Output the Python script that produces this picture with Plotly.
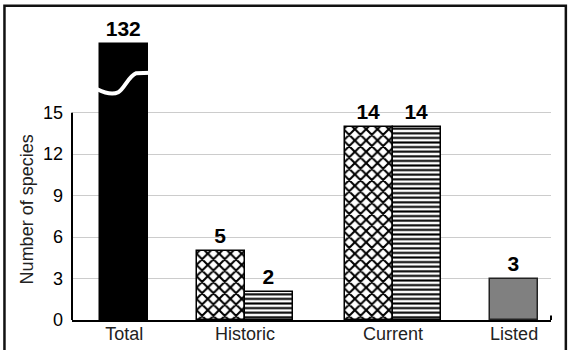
import plotly.graph_objects as go

# ---------------- data ----------------
categories = ["Total", "Historic", "Current", "Listed"]
total_species = [132]
crosshatch_values = [5, 14]      # Historic, Current (cross-hatched bars)
striped_values = [2, 14]         # Historic, Current (striped bars)
listed_species = [3]
y_ticks = [0, 3, 6, 9, 12, 15]

# ---------------- layout constants ----------------
group_pos = [1.09, 3.61, 6.70, 9.23]   # centre of each category on the x axis
bar_w = 1.0
break_top = 20                         # drawn height of the broken Total bar
font_family = "Liberation Sans, Arial, sans-serif"

fig = go.Figure()

# Total (broken bar)
fig.add_trace(go.Bar(
    x=[group_pos[0]], y=[break_top], width=bar_w,
    marker=dict(color="black", line=dict(color="black", width=1.5)),
    text=[str(v) for v in total_species], textposition="outside",
))

# Historic / Current cross-hatched bars
fig.add_trace(go.Bar(
    x=[group_pos[1] - bar_w / 2, group_pos[2] - bar_w / 2], y=crosshatch_values, width=bar_w,
    marker=dict(color="white", line=dict(color="black", width=1.5),
                pattern=dict(shape="x", size=8, solidity=0.45, fgcolor="black",
                             bgcolor="white", fillmode="replace")),
    text=crosshatch_values, textposition="outside",
))

# Historic / Current striped bars
fig.add_trace(go.Bar(
    x=[group_pos[1] + bar_w / 2, group_pos[2] + bar_w / 2], y=striped_values, width=bar_w,
    marker=dict(color="white", line=dict(color="black", width=1.5),
                pattern=dict(shape="-", size=4.6, solidity=0.45, fgcolor="black",
                             bgcolor="white", fillmode="replace")),
    text=striped_values, textposition="outside",
))

# Listed
fig.add_trace(go.Bar(
    x=[group_pos[3]], y=listed_species, width=bar_w,
    marker=dict(color="#808080", line=dict(color="#222222", width=1.5)),
    text=listed_species, textposition="outside",
))

fig.update_traces(textfont=dict(family=font_family, size=21, color="black", weight="bold"),
                  cliponaxis=False, hoverinfo="skip")

# white wavy break across the Total bar (pixel-ish offsets turned into axis units)
px_x = 1 / 47.9
px_y = 1 / 13.82
cx = group_pos[0] - bar_w / 2 - 3 * px_x
by = break_top - 3.3
def pt(dx, dy):
    return f"{cx + dx * px_x:.3f},{by + dy * px_y:.3f}"
wave = ("M " + pt(0, 0) + " C " + pt(8, -4) + " " + pt(15, -6) + " " + pt(21, -3)
        + " C " + pt(27, 0) + " " + pt(31, 13) + " " + pt(39, 16) + " L " + pt(54, 16.5))

frame = dict(color="#111111", width=2.5)
shapes = [
    dict(type="path", path=wave, xref="x", yref="y",
         line=dict(color="white", width=4)),
    # y axis line stops at the top tick
    dict(type="line", xref="paper", yref="y", x0=0, x1=0, y0=0, y1=y_ticks[-1],
         line=dict(color="black", width=2)),
    # small hook at the right end of the x axis
    dict(type="line", xref="paper", yref="y", x0=1, x1=1, y0=0, y1=0.33,
         line=dict(color="black", width=2)),
    # outer frame: left, top, right (bottom edge is below the window)
    dict(type="path", xref="paper", yref="paper",
         path="M -0.141,-0.2 L -0.141,1.034 L 1.031,1.034 L 1.031,-0.2", line=frame),
]

fig.update_layout(
    width=570, height=350,
    margin=dict(l=72, r=19, t=16, b=30),
    plot_bgcolor="white", paper_bgcolor="white",
    showlegend=False, barmode="overlay", bargap=0,
    font=dict(family=font_family, color="#222222"),
    shapes=shapes,
    annotations=[dict(text="Number of species", xref="paper", yref="y", x=-0.092, y=8,
                      textangle=-90, showarrow=False, xanchor="center", yanchor="middle",
                      font=dict(size=18, color="#222222"))],
    xaxis=dict(range=[0, 10], tickvals=group_pos, ticktext=categories, automargin=False,
               showgrid=False, zeroline=False, showline=True, linecolor="black", linewidth=2,
               ticks="", ticklabelstandoff=-4, tickfont=dict(size=18, color="#222222")),
    yaxis=dict(range=[0, 22], tickvals=y_ticks, showgrid=True, gridcolor="#cccccc", gridwidth=1,
               zeroline=False, showline=False, ticks="", ticklabelstandoff=8, automargin=False,
               tickfont=dict(size=18, color="black")),
)

# drop the page's default body margin so the figure sits at the window's corner
fig.write_html("out.html", config={"displayModeBar": False},
               post_script="document.body.style.margin='0';document.body.style.overflow='hidden';")
